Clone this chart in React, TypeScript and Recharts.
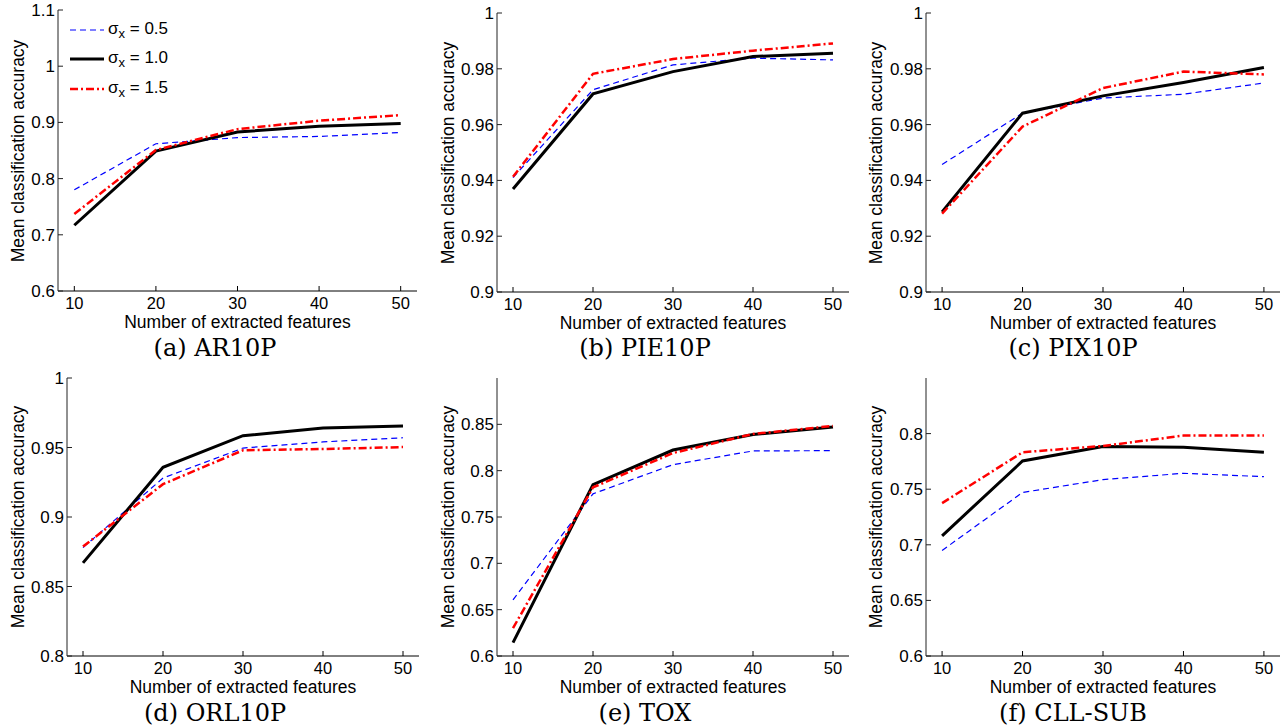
import { LineChart, Line, XAxis, YAxis, Legend } from "recharts";

const FEATURES = [10, 20, 30, 40, 50];

// mean accuracy per sigma_x (0.5, 1.0, 1.5)
const AR10P_05 = [0.780, 0.862, 0.873, 0.875, 0.882];
const AR10P_10 = [0.717, 0.849, 0.883, 0.893, 0.898];
const AR10P_15 = [0.737, 0.851, 0.888, 0.903, 0.913];

const PIE10P_05 = [0.941, 0.9725, 0.9814, 0.9838, 0.9832];
const PIE10P_10 = [0.9369, 0.971, 0.979, 0.9844, 0.9856];
const PIE10P_15 = [0.9413, 0.9782, 0.9835, 0.9865, 0.9891];

const PIX10P_05 = [0.9457, 0.9641, 0.9695, 0.9709, 0.9749];
const PIX10P_10 = [0.9287, 0.9641, 0.9703, 0.9751, 0.9805];
const PIX10P_15 = [0.9281, 0.9593, 0.9731, 0.979, 0.978];

const ORL10P_05 = [0.878, 0.928, 0.9496, 0.954, 0.957];
const ORL10P_10 = [0.867, 0.9357, 0.9585, 0.964, 0.9654];
const ORL10P_15 = [0.8787, 0.9236, 0.948, 0.9489, 0.9503];

const TOX_05 = [0.6605, 0.775, 0.8065, 0.8213, 0.8216];
const TOX_10 = [0.6144, 0.785, 0.8223, 0.839, 0.8472];
const TOX_15 = [0.63, 0.782, 0.819, 0.8396, 0.8483];

const CLL_05 = [0.6949, 0.7471, 0.7586, 0.7643, 0.7613];
const CLL_10 = [0.7081, 0.7754, 0.7883, 0.7877, 0.7832];
const CLL_15 = [0.7375, 0.7832, 0.7889, 0.7982, 0.7982];

const TICKS_AR = [0.6, 0.7, 0.8, 0.9, 1, 1.1];
const TICKS_PIE = [0.9, 0.92, 0.94, 0.96, 0.98, 1];
const TICKS_ORL = [0.8, 0.85, 0.9, 0.95, 1];
const TICKS_TOX = [0.6, 0.65, 0.7, 0.75, 0.8, 0.85];
const TICKS_CLL = [0.6, 0.65, 0.7, 0.75, 0.8];

const DATASETS = [
  { caption: "(a) AR10P", s05: AR10P_05, s10: AR10P_10, s15: AR10P_15, ticks: TICKS_AR, top: 1.1 },
  { caption: "(b) PIE10P", s05: PIE10P_05, s10: PIE10P_10, s15: PIE10P_15, ticks: TICKS_PIE, top: 1 },
  { caption: "(c) PIX10P", s05: PIX10P_05, s10: PIX10P_10, s15: PIX10P_15, ticks: TICKS_PIE, top: 1 },
  { caption: "(d) ORL10P", s05: ORL10P_05, s10: ORL10P_10, s15: ORL10P_15, ticks: TICKS_ORL, top: 1 },
  { caption: "(e) TOX", s05: TOX_05, s10: TOX_10, s15: TOX_15, ticks: TICKS_TOX, top: 0.9 },
  { caption: "(f) CLL-SUB", s05: CLL_05, s10: CLL_10, s15: CLL_15, ticks: TICKS_CLL, top: 0.85 },
];

// plot boxes in page pixels
const PANELS = [
  { left: 0, x0: 58, x1: 417, y0: 10, y1: 291, capY: 348 },
  { left: 430, x0: 497, x1: 849, y0: 13, y1: 292, capY: 348 },
  { left: 858, x0: 926, x1: 1280, y0: 13, y1: 292, capY: 348 },
  { left: 0, x0: 67, x1: 419, y0: 378, y1: 656, capY: 713 },
  { left: 430, x0: 497, x1: 849, y0: 378, y1: 656, capY: 713 },
  { left: 858, x0: 926, x1: 1280, y0: 378, y1: 656, capY: 713 },
];

const SERIES = [
  { key: "s05", sigma: "0.5", stroke: "#0000ff", width: 1.2, dash: "6 4" },
  { key: "s10", sigma: "1.0", stroke: "#000000", width: 3, dash: undefined },
  { key: "s15", sigma: "1.5", stroke: "#ff0000", width: 2.5, dash: "8 3 2 3" },
];

const SANS = "'Liberation Sans', Arial, sans-serif";
const SERIF = "'DejaVu Serif', serif";

const fmt = (v: number) => String(Number(v.toFixed(2)));

function SigmaLegend() {
  return (
    <div style={{ fontFamily: SANS, fontSize: 17, color: "#000" }}>
      {SERIES.map((s) => (
        <div key={s.key} style={{ display: "flex", alignItems: "center", height: 29.5 }}>
          <svg width={34} height={10}>
            <line x1={0} y1={5} x2={34} y2={5} stroke={s.stroke} strokeWidth={s.width} strokeDasharray={s.dash} />
          </svg>
          <span style={{ marginLeft: 4, whiteSpace: "nowrap" }}>
            σ<sub style={{ fontSize: 13 }}>x</sub> = {s.sigma}
          </span>
        </div>
      ))}
    </div>
  );
}

function Panel({ idx }: { idx: number }) {
  const d = DATASETS[idx];
  const p = PANELS[idx];
  const rows = FEATURES.map((k, i) => ({ k, s05: d.s05[i], s10: d.s10[i], s15: d.s15[i] }));
  const w = p.x1 - p.x0 + 60;
  const h = p.y1 - p.y0 + 50;
  return (
    <>
      <div style={{ position: "absolute", left: p.x0 - 50, top: p.y0 - 10 }}>
        <LineChart width={w} height={h} data={rows} margin={{ top: 10, right: 10, bottom: 0, left: 0 }}>
          <XAxis
            dataKey="k"
            type="number"
            domain={[8, 52]}
            ticks={FEATURES}
            interval={0}
            allowDataOverflow
            height={40}
            stroke="#000"
            tickSize={-5}
            tickMargin={11}
            tick={{ fill: "#000", fontSize: 16.5, fontFamily: SANS }}
          />
          <YAxis
            type="number"
            domain={[d.ticks[0], d.top]}
            ticks={d.ticks}
            interval={0}
            allowDataOverflow
            width={50}
            stroke="#222"
            tickSize={-5}
            tickMargin={8}
            tickFormatter={fmt}
            tick={{ fill: "#000", fontSize: 17, fontFamily: SANS }}
          />
          {idx === 0 && (
            <Legend
              layout="vertical"
              align="center"
              verticalAlign="middle"
              wrapperStyle={{ left: 62, top: 15, width: "auto" }}
              content={() => <SigmaLegend />}
            />
          )}
          {SERIES.map((s) => (
            <Line
              key={s.key}
              type="linear"
              dataKey={s.key}
              stroke={s.stroke}
              strokeWidth={s.width}
              strokeDasharray={s.dash}
              dot={false}
              activeDot={false}
              isAnimationActive={false}
            />
          ))}
        </LineChart>
      </div>
      <div
        style={{
          position: "absolute",
          left: p.left + 18,
          top: (p.y0 + p.y1) / 2,
          transform: "translate(-50%, -50%) rotate(-90deg)",
          whiteSpace: "nowrap",
          fontFamily: SANS,
          fontSize: 17.5,
        }}
      >
        Mean classification accuracy
      </div>
      <div
        style={{
          position: "absolute",
          left: (p.x0 + p.x1) / 2,
          top: p.y1 + 32,
          transform: "translate(-50%, -50%)",
          whiteSpace: "nowrap",
          fontFamily: SANS,
          fontSize: 17.5,
          lineHeight: 1,
        }}
      >
        Number of extracted features
      </div>
      <div
        style={{
          position: "absolute",
          left: p.left + 215,
          top: p.capY,
          transform: "translate(-50%, -50%)",
          whiteSpace: "nowrap",
          fontFamily: SERIF,
          fontSize: 24,
        }}
      >
        {d.caption}
      </div>
    </>
  );
}

export default function App() {
  return (
    <div style={{ position: "absolute", left: 0, top: 0, width: 1288, height: 728, background: "#fff", overflow: "hidden" }}>
      {DATASETS.map((_, i) => (
        <Panel key={i} idx={i} />
      ))}
    </div>
  );
}
